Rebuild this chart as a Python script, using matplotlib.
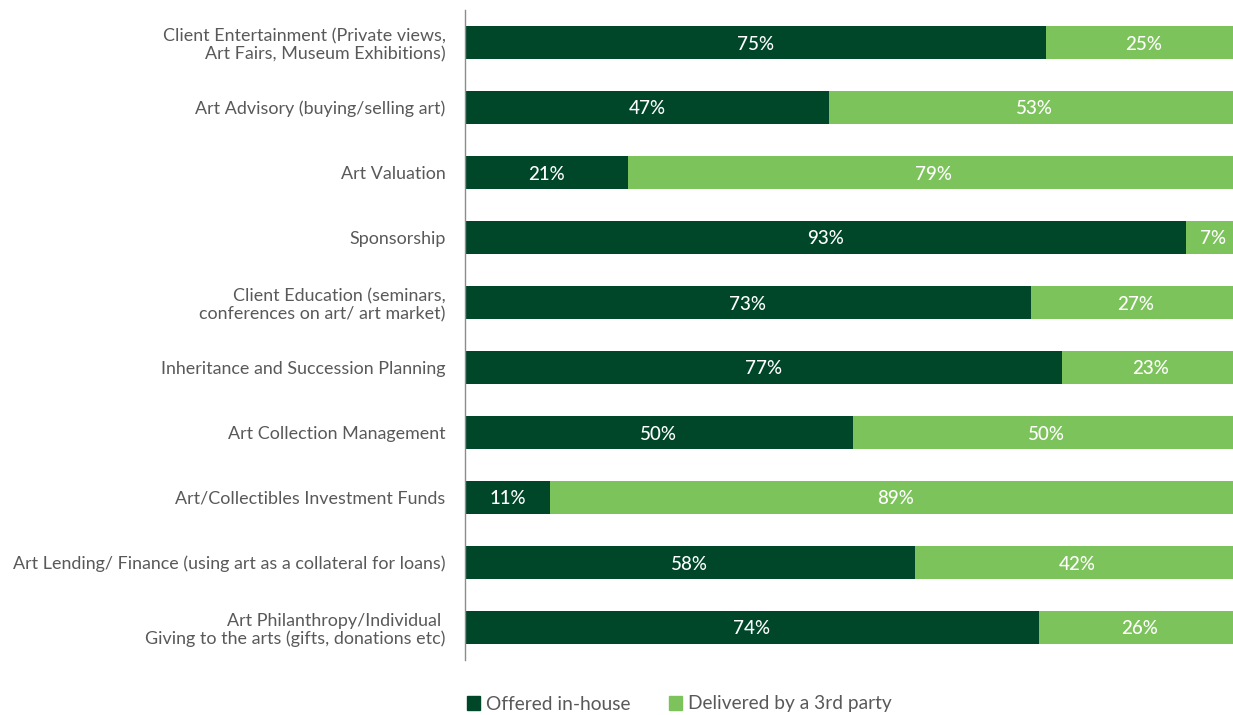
import numpy as np
import matplotlib
matplotlib.use('Agg')
import matplotlib.pyplot as plt
from matplotlib.patches import Patch

plt.rcParams['font.family'] = ['Lato', 'DejaVu Sans']

categories = [
    'Client Entertainment (Private views,\nArt Fairs, Museum Exhibitions)',
    'Art Advisory (buying/selling art)',
    'Art Valuation',
    'Sponsorship',
    'Client Education (seminars,\nconferences on art/ art market)',
    'Inheritance and Succession Planning',
    'Art Collection Management',
    'Art/Collectibles Investment Funds',
    'Art Lending/ Finance (using art as a collateral for loans)',
    'Art Philanthropy/Individual \nGiving to the arts (gifts, donations etc)',
]
in_house = [75, 47, 21, 93, 73, 77, 50, 11, 58, 74]
third_party = [25, 53, 79, 7, 27, 23, 50, 89, 42, 26]

series_names = ['Offered in-house', 'Delivered by a 3rd party']
DARK = '#00472a'
LIGHT = '#7dc35b'
TEXT = '#595959'

fig = plt.figure(figsize=(12.33, 7.15), dpi=100)
# 100% runs slightly past the right edge of the canvas
ax = fig.add_axes([465 / 1233, 55 / 715, 775 / 1233, 650 / 715])

y = np.arange(len(categories))
h = 0.52
ax.barh(y, in_house, height=h, color=DARK)
ax.barh(y, third_party, left=in_house, height=h, color=LIGHT)

for yi, a, b in zip(y, in_house, third_party):
    ax.text(a / 2, yi, f'{a}%', ha='center', va='center_baseline', color='white',
            fontsize=13.5, fontweight='medium')
    ax.text(a + b / 2, yi, f'{b}%', ha='center', va='center_baseline', color='white',
            fontsize=13.5, fontweight='medium')

ax.set_xlim(0, 100)
ax.set_ylim(len(categories) - 0.5, -0.5)
ax.set_yticks(y)
ax.set_yticklabels(categories, fontsize=12.9, color=TEXT, linespacing=1.15)
ax.tick_params(axis='y', length=0, pad=14)
ax.set_xticks([])
for side in ['top', 'right', 'bottom']:
    ax.spines[side].set_visible(False)
ax.spines['left'].set_color('#8c8c8c')
ax.spines['left'].set_linewidth(1.0)

handles = [Patch(color=DARK), Patch(color=LIGHT)]
fig.legend(handles, series_names, loc='center', ncol=2,
           bbox_to_anchor=(679 / 1233, 1 - 704 / 715), frameon=False,
           fontsize=13.8, labelcolor=TEXT, handlelength=0.7, handleheight=0.7,
           handletextpad=0.3, columnspacing=2.0)

fig.savefig('out.png', dpi=100)
